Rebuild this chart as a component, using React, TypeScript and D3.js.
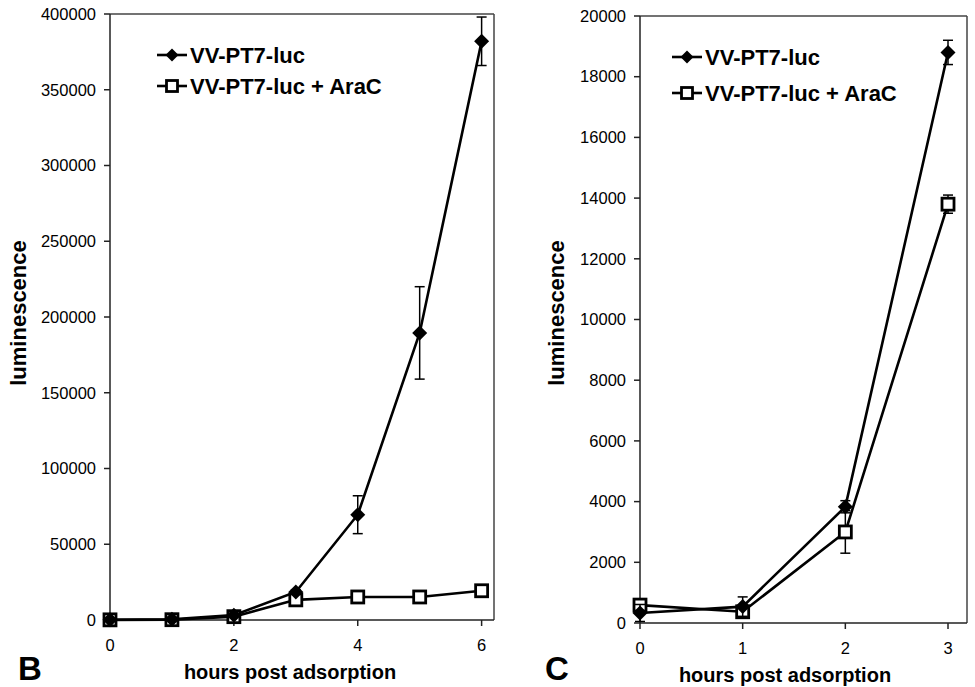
import React from "react";
import * as d3 from "d3";

const seriesNames = ["VV-PT7-luc", "VV-PT7-luc + AraC"];

// Panel B
const hoursB = [0, 1, 2, 3, 4, 5, 6];
const luc_B = [200, 500, 3200, 18500, 69500, 189500, 382000];
const lucErr_B = [0, 0, 500, 1500, 12500, 30500, 16000];
const arac_B = [100, 200, 2200, 13300, 15200, 15200, 19300];
const aracErr_B = [0, 0, 500, 1000, 1000, 1000, 2000];
const yTicksB = [0, 50000, 100000, 150000, 200000, 250000, 300000, 350000, 400000];
const xTicksB = [0, 2, 4, 6];

// Panel C
const hoursC = [0, 1, 2, 3];
const luc_C = [330, 540, 3830, 18800];
const lucErr_C = [280, 320, 200, 400];
const arac_C = [590, 370, 3000, 13800];
const aracErr_C = [100, 80, 700, 300];
const yTicksC = [0, 2000, 4000, 6000, 8000, 10000, 12000, 14000, 16000, 18000, 20000];
const xTicksC = [0, 1, 2, 3];

const FONT = "Arial, 'Liberation Sans', sans-serif";

type PanelProps = {
  left: number; right: number; top: number; bottom: number;
  xMax: number; yMax: number;
  hours: number[]; s1: number[]; e1: number[]; s2: number[]; e2: number[];
  xTicks: number[]; yTicks: number[];
  legendX: number; legendY: number; legendGap: number;
  yLabelX: number; yLabelY: number; xTitleX: number; letter: string; letterX: number;
};

function Diamond({ x, y, r }: { x: number; y: number; r: number }) {
  return <path d={`M${x},${y - r}L${x + r},${y}L${x},${y + r}L${x - r},${y}Z`} fill="#000" />;
}
function Square({ x, y, s }: { x: number; y: number; s: number }) {
  return <rect x={x - s / 2} y={y - s / 2} width={s} height={s} fill="#fff" stroke="#000" strokeWidth={2.8} />;
}

function Panel(p: PanelProps) {
  const x = d3.scaleLinear().domain([0, p.xMax]).range([p.left, p.right]);
  const y = d3.scaleLinear().domain([0, p.yMax]).range([p.bottom, p.top]);
  const line = d3.line<number>().x((_, i) => x(p.hours[i])).y((d) => y(d));
  const errBars = (vals: number[], errs: number[], key: string) =>
    vals.map((v, i) =>
      errs[i] > 0 ? (
        <g key={key + i} stroke="#000" strokeWidth={1.5}>
          <line x1={x(p.hours[i])} x2={x(p.hours[i])} y1={y(v + errs[i])} y2={y(Math.max(0, v - errs[i]))} />
          <line x1={x(p.hours[i]) - 5} x2={x(p.hours[i]) + 5} y1={y(v + errs[i])} y2={y(v + errs[i])} />
          <line x1={x(p.hours[i]) - 5} x2={x(p.hours[i]) + 5} y1={y(Math.max(0, v - errs[i]))} y2={y(Math.max(0, v - errs[i]))} />
        </g>
      ) : null
    );
  return (
    <g>
      {/* frame */}
      <line x1={p.left} x2={p.right} y1={p.top} y2={p.top} stroke="#444" strokeWidth={1.5} />
      <line x1={p.right} x2={p.right} y1={p.top} y2={p.bottom} stroke="#444" strokeWidth={1.5} />
      <line x1={p.left} x2={p.right} y1={p.bottom} y2={p.bottom} stroke="#222" strokeWidth={1.5} />
      <line x1={p.left} x2={p.left} y1={p.top} y2={p.bottom} stroke="#222" strokeWidth={1.5} />
      {p.yTicks.map((t) => (
        <g key={"y" + t}>
          <line x1={p.left - 6} x2={p.left} y1={y(t)} y2={y(t)} stroke="#222" strokeWidth={1.5} />
          <text x={p.left - 14} y={y(t)} dy="0.35em" textAnchor="end" fontSize={16.5} fontFamily={FONT} fill="#000">{t}</text>
        </g>
      ))}
      {p.xTicks.map((t) => (
        <g key={"x" + t}>
          <line x1={x(t)} x2={x(t)} y1={p.bottom} y2={p.bottom + 6} stroke="#222" strokeWidth={1.5} />
          <text x={x(t)} y={p.bottom + 31} textAnchor="middle" fontSize={16.5} fontFamily={FONT} fill="#000">{t}</text>
        </g>
      ))}
      <text x={p.xTitleX} y={p.bottom + 59} textAnchor="middle" fontSize={20} fontWeight="bold" fontFamily={FONT}>hours post adsorption</text>
      <text transform={`translate(${p.yLabelX},${p.yLabelY}) rotate(-90)`} textAnchor="middle" fontSize={22} fontWeight="bold" fontFamily={FONT}>luminescence</text>
      <text x={p.letterX} y={680} fontSize={33} fontWeight="bold" fontFamily={FONT}>{p.letter}</text>
      {/* series */}
      <path d={line(p.s2) || ""} fill="none" stroke="#000" strokeWidth={2.6} />
      <path d={line(p.s1) || ""} fill="none" stroke="#000" strokeWidth={2.6} />
      {errBars(p.s2, p.e2, "e2")}
      {p.s2.map((v, i) => <Square key={"s" + i} x={x(p.hours[i])} y={y(v)} s={12} />)}
      {errBars(p.s1, p.e1, "e1")}
      {p.s1.map((v, i) => <Diamond key={"d" + i} x={x(p.hours[i])} y={y(v)} r={7.5} />)}
      {/* legend */}
      <g>
        <line x1={p.legendX} x2={p.legendX + 30} y1={p.legendY} y2={p.legendY} stroke="#000" strokeWidth={2.6} />
        <Diamond x={p.legendX + 15} y={p.legendY} r={6.5} />
        <text x={p.legendX + 33} y={p.legendY} dy="0.35em" fontSize={22} fontWeight="bold" fontFamily={FONT}>{seriesNames[0]}</text>
        <line x1={p.legendX} x2={p.legendX + 30} y1={p.legendY + p.legendGap} y2={p.legendY + p.legendGap} stroke="#000" strokeWidth={2.6} />
        <Square x={p.legendX + 15} y={p.legendY + p.legendGap} s={11} />
        <text x={p.legendX + 33} y={p.legendY + p.legendGap} dy="0.35em" fontSize={22} fontWeight="bold" fontFamily={FONT}>{seriesNames[1]}</text>
      </g>
    </g>
  );
}

export default function App() {
  return (
    <svg width={975} height={687} style={{ position: "absolute", left: 0, top: 0, background: "#fff" }}>
      <rect width={975} height={687} fill="#fff" />
      <Panel left={110} right={494} top={14} bottom={620} xMax={6.2} yMax={400000}
        hours={hoursB} s1={luc_B} e1={lucErr_B} s2={arac_B} e2={aracErr_B}
        xTicks={xTicksB} yTicks={yTicksB}
        legendX={157} legendY={55} legendGap={31} yLabelX={26} yLabelY={313} xTitleX={290}
        letter="B" letterX={18} />
      <Panel left={640} right={967} top={16} bottom={623} xMax={3.185} yMax={20000}
        hours={hoursC} s1={luc_C} e1={lucErr_C} s2={arac_C} e2={aracErr_C}
        xTicks={xTicksC} yTicks={yTicksC}
        legendX={672} legendY={57} legendGap={36} yLabelX={564} yLabelY={313} xTitleX={785}
        letter="C" letterX={545} />
    </svg>
  );
}
